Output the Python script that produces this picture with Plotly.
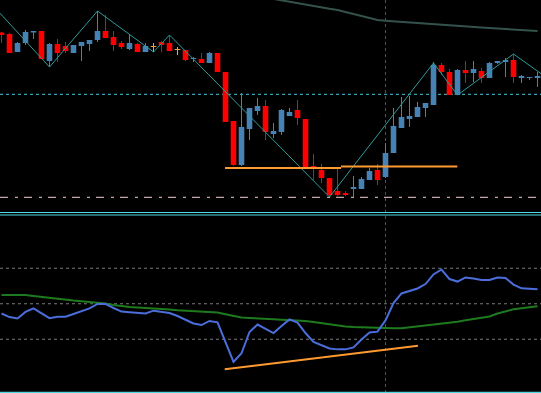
import plotly.graph_objects as go

# ---------------- data ----------------
OPEN = [1.22675, 1.2266, 1.2248, 1.2257, 1.22675, 1.2269, 1.2239, 1.2256, 1.2254, 1.2247,
        1.2254, 1.2256, 1.2260, 1.2269, 1.2263, 1.2257, 1.2251, 1.2256, 1.2248, 1.2253,
        1.2258, 1.2257, 1.2250, 1.2250, 1.2241, 1.2241, 1.2237, 1.2247, 1.2228, 1.2179,
        1.2135, 1.2171, 1.2189, 1.2194, 1.2166, 1.2168, 1.2184, 1.2190, 1.2181, 1.2134,
        1.2130, 1.2122, 1.2109, 1.2107, 1.2111, 1.2111, 1.2120, 1.2130, 1.2123, 1.2147,
        1.2172, 1.2181, 1.2183, 1.2192, 1.2195, 1.2235, 1.2228, 1.2205, 1.2230, 1.2227,
        1.2229, 1.2222, 1.2237, 1.2238, 1.2240, 1.2222, 1.2222, 1.2222]
HIGH = [1.2268, 1.2267, 1.2258, 1.2270, 1.2269, 1.2269, 1.2257, 1.2261, 1.2258, 1.2255,
        1.2258, 1.2260, 1.2289, 1.2285, 1.2269, 1.2259, 1.2266, 1.2257, 1.2257, 1.2257,
        1.2259, 1.2265, 1.2253, 1.2250, 1.2243, 1.2247, 1.2248, 1.2247, 1.2228, 1.2179,
        1.2207, 1.2192, 1.2202, 1.2200, 1.2177, 1.2191, 1.2192, 1.2200, 1.2181, 1.2146,
        1.2136, 1.2122, 1.2132, 1.2109, 1.2124, 1.2123, 1.2132, 1.2136, 1.2157, 1.2192,
        1.2203, 1.2204, 1.2198, 1.2197, 1.2238, 1.2237, 1.2231, 1.2231, 1.2239, 1.2239,
        1.2232, 1.2238, 1.2239, 1.2242, 1.2246, 1.2225, 1.2223, 1.2228]
LOW = [1.2257, 1.2247, 1.2248, 1.2255, 1.2261, 1.2241, 1.2233, 1.2238, 1.2247, 1.2247,
       1.2239, 1.2249, 1.2258, 1.2262, 1.2249, 1.2251, 1.2250, 1.2248, 1.2248, 1.2248,
       1.2248, 1.2249, 1.2245, 1.2239, 1.2238, 1.2237, 1.2237, 1.2228, 1.2178, 1.2134,
       1.2134, 1.2160, 1.2185, 1.2160, 1.2162, 1.2165, 1.2184, 1.2175, 1.2132, 1.2120,
       1.2117, 1.2103, 1.2104, 1.2104, 1.2103, 1.2111, 1.2120, 1.2115, 1.2122, 1.2147,
       1.2172, 1.2173, 1.2183, 1.2183, 1.2195, 1.2225, 1.2205, 1.2205, 1.2217, 1.2218,
       1.2217, 1.2222, 1.2236, 1.2223, 1.2217, 1.2217, 1.2220, 1.2213]
CLOSE = [1.2265, 1.2247, 1.2257, 1.2268, 1.2269, 1.2241, 1.2256, 1.2247, 1.2249, 1.2255,
         1.2258, 1.2260, 1.2269, 1.2262, 1.2255, 1.2253, 1.2257, 1.2248, 1.2254, 1.2253,
         1.2255, 1.2249, 1.2250, 1.2240, 1.2242, 1.2237, 1.2247, 1.2228, 1.2178, 1.2135,
         1.2173, 1.2192, 1.2194, 1.2168, 1.2169, 1.2190, 1.2188, 1.2182, 1.2133, 1.2132,
         1.2122, 1.2105, 1.2105, 1.2105, 1.2113, 1.2121, 1.2129, 1.2120, 1.2147, 1.2174,
         1.2183, 1.2184, 1.2193, 1.2197, 1.2235, 1.2228, 1.2205, 1.2230, 1.2227, 1.2231,
         1.2222, 1.2237, 1.2239, 1.2240, 1.2223, 1.2224, 1.2223, 1.2224]

MA_START = 33
MA_PRICE = [1.23025, 1.2301, 1.22997, 1.22983, 1.2297, 1.22955, 1.2294, 1.22925, 1.22912,
            1.2290, 1.2288, 1.22855, 1.22835, 1.22815, 1.2280, 1.22793, 1.22787, 1.2278,
            1.22773, 1.22767, 1.2276, 1.22755, 1.2275, 1.22745, 1.2274, 1.22735, 1.2273,
            1.22725, 1.2272, 1.22715, 1.2271, 1.22705, 1.2270, 1.22695, 1.2269]

ZIGZAG_X = [-1, 6, 12, 19, 21, 41, 54, 57, 64, 68]
ZIGZAG_Y = [1.22938, 1.2233, 1.2289, 1.2248, 1.2265, 1.2103, 1.2237, 1.2205, 1.2246, 1.22232]

LEVEL_CYAN = 1.22057
LEVEL_DASHDOT = 1.21027
SUPPORT_X = [[27.94, 42.44], [42.44, 56.98]]
SUPPORT_Y = [[1.2132, 1.2132], [1.21335, 1.21335]]
VLINE_X = 48

RSI = [44.5, 42.5, 41.7, 45.4, 47.4, 44.5, 41.9, 42.7, 42.7, 44.2,
       45.9, 47.4, 49.9, 49.9, 47.6, 45.6, 45.2, 44.8, 44.5, 46.1,
       45.6, 44.8, 43.1, 41.1, 38.9, 38.0, 40.3, 39.5, 28.5, 17.2,
       22.1, 34.1, 38.3, 35.8, 33.5, 37.5, 41.2, 39.4, 33.5, 28.5,
       26.5, 24.8, 24.3, 24.3, 25.4, 29.9, 33.8, 34.3, 40.6, 50.4,
       55.8, 57.2, 58.6, 61.1, 66.5, 69.3, 63.9, 62.5, 64.8, 64.2,
       63.4, 63.4, 64.8, 64.5, 60.8, 58.7, 58.4, 58.1]
RSI_MA = [54.9, 54.9, 54.9, 54.9, 54.4, 53.8, 53.2, 52.7, 52.3, 51.8,
          51.4, 51.0, 50.6, 50.1, 49.3, 48.6, 48.2, 47.9, 47.7, 47.5,
          47.1, 46.8, 46.4, 46.1, 45.8, 45.6, 45.4, 45.1, 44.1, 43.1,
          42.3, 42.0, 41.6, 41.3, 41.2, 41.0, 40.8, 40.6, 40.3, 39.7,
          39.1, 38.4, 37.6, 37.2, 36.9, 36.7, 36.4, 36.2, 36.2, 36.2,
          36.2, 36.7, 37.2, 37.6, 38.1, 38.6, 39.4, 39.9, 40.7, 41.4,
          42.1, 42.8, 44.5, 45.9, 46.9, 47.5, 48.1, 48.6]
RSI_LEVELS = [30, 50, 70]
RSI_TREND_X = [27.9, 52.06]
RSI_TREND_Y = [13.1, 26.4]

# ---------------- styling ----------------
RED = "#FF0000"
BLUE = "#4682B4"
DOJI = "#F4A43C"
W, H = 541, 393
TOP_BOTTOM_PX = 212.5
LOW_TOP_PX = 215.0
LOW_BOTTOM_PX = 392.5

n = len(OPEN)
idx = list(range(n))

def colour(o, c):
    if c < o:
        return RED
    if c > o:
        return BLUE
    return DOJI

cols = [colour(o, c) for o, c in zip(OPEN, CLOSE)]

fig = go.Figure()

# wicks
for col in (RED, BLUE, DOJI):
    xs, ys = [], []
    for i in idx:
        if cols[i] == col:
            xs += [i, i, None]
            ys += [LOW[i], HIGH[i], None]
    fig.add_trace(go.Scatter(x=xs, y=ys, mode="lines", line=dict(color=col, width=1),
                             hoverinfo="skip", xaxis="x", yaxis="y"))

# bodies
fig.add_trace(go.Bar(
    x=idx,
    y=[max(abs(c - o), 0.0001) for o, c in zip(OPEN, CLOSE)],
    base=[min(o, c) for o, c in zip(OPEN, CLOSE)],
    width=0.7,
    marker=dict(color=cols, line=dict(width=0)),
    xaxis="x", yaxis="y",
))

# moving average
fig.add_trace(go.Scatter(x=list(range(MA_START, MA_START + len(MA_PRICE))), y=MA_PRICE,
                         mode="lines", line=dict(color="#34524C", width=2),
                         xaxis="x", yaxis="y"))
# zigzag
fig.add_trace(go.Scatter(x=ZIGZAG_X, y=ZIGZAG_Y, mode="lines",
                         line=dict(color="#2F9A9A", width=1), xaxis="x", yaxis="y"))
# support lines
for sx, sy in zip(SUPPORT_X, SUPPORT_Y):
    fig.add_trace(go.Scatter(x=sx, y=sy, mode="lines",
                             line=dict(color="#FF9A30", width=2), xaxis="x", yaxis="y"))

# indicator panel
fig.add_trace(go.Scatter(x=idx, y=RSI_MA, mode="lines",
                         line=dict(color="#1E7A1E", width=2), xaxis="x2", yaxis="y2"))
fig.add_trace(go.Scatter(x=idx, y=RSI, mode="lines",
                         line=dict(color="#4B6EDC", width=2), xaxis="x2", yaxis="y2"))
fig.add_trace(go.Scatter(x=RSI_TREND_X, y=RSI_TREND_Y, mode="lines",
                         line=dict(color="#FF9A30", width=2), xaxis="x2", yaxis="y2"))

shapes = [
    dict(type="line", xref="paper", x0=0, x1=1, yref="y", y0=LEVEL_CYAN, y1=LEVEL_CYAN,
         line=dict(color="#46C8D8", width=1, dash="3px,3px"), layer="below"),
    dict(type="line", xref="paper", x0=0, x1=1, yref="y", y0=LEVEL_DASHDOT, y1=LEVEL_DASHDOT,
         line=dict(color="#F2CFCF", width=1, dash="8px,7px,3px,6px"), layer="below"),
    dict(type="line", xref="x", x0=VLINE_X, x1=VLINE_X, yref="paper", y0=0, y1=1,
         line=dict(color="#2E6B2E", width=1, dash="3px,3px"), layer="below"),
    dict(type="line", xref="paper", x0=0, x1=1, yref="y domain", y0=0, y1=0,
         line=dict(color="#4FD8E0", width=1)),
    dict(type="line", xref="paper", x0=0, x1=1, yref="y2 domain", y0=1, y1=1,
         line=dict(color="#4FD8E0", width=1)),
    dict(type="line", xref="paper", x0=0, x1=1, yref="y2 domain", y0=0, y1=0,
         line=dict(color="#4FD8E0", width=1.5)),
]
for lv in RSI_LEVELS:
    shapes.append(dict(type="line", xref="paper", x0=0, x1=1, yref="y2", y0=lv, y1=lv,
                       line=dict(color="#7A7A7A", width=1, dash="3px,3px"), layer="below"))

x_range = [-1.5 / 8, (W - 1.5) / 8]
top_max = 1.2300
top_min = top_max - TOP_BOTTOM_PX / 10000

axis_common = dict(showgrid=False, zeroline=False, showticklabels=False, ticks="",
                   showline=False, fixedrange=True)

fig.update_layout(
    width=W, height=H,
    margin=dict(l=0, r=0, t=0, b=0, pad=0),
    paper_bgcolor="black", plot_bgcolor="black",
    showlegend=False, barmode="overlay",
    xaxis=dict(range=x_range, anchor="y", domain=[0, 1], **axis_common),
    xaxis2=dict(range=x_range, anchor="y2", domain=[0, 1], matches="x", **axis_common),
    yaxis=dict(range=[top_min, top_max], domain=[1 - TOP_BOTTOM_PX / H, 1], **axis_common),
    yaxis2=dict(range=[0, 100], domain=[1 - LOW_BOTTOM_PX / H, 1 - LOW_TOP_PX / H],
                **axis_common),
    shapes=shapes,
)

fig.write_html(
    "out.html",
    config={"displayModeBar": False, "staticPlot": True},
    post_script="document.body.style.margin='0';document.body.style.background='black';"
                "document.documentElement.style.overflow='hidden';",
)
